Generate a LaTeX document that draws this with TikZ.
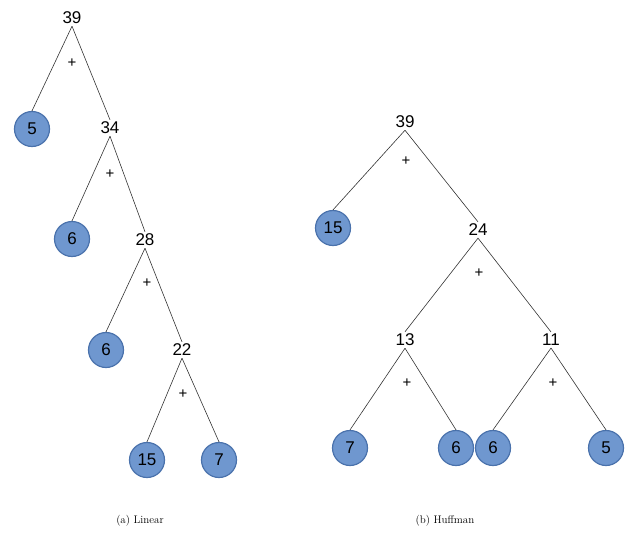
\documentclass[tikz,border=0pt]{standalone}
\usepackage{fontspec}
\newfontfamily\lab{Liberation Sans}
\begin{document}
\begin{tikzpicture}[x=1pt,y=-1pt,
  lbl/.style={font=\lab\fontsize{17}{17}\selectfont, inner sep=2pt},
  leaf/.style={lbl, circle, fill=leafblue, draw=leafedge, line width=1.2pt, minimum size=35pt, inner sep=0pt},
  pl/.style={font=\lab\fontsize{15}{15}\selectfont, inner sep=0pt},
  edge/.style={line width=0.6pt, draw=black!80}]
\definecolor{leafblue}{HTML}{6F97CF}
\definecolor{leafedge}{HTML}{4A72AC}
\useasboundingbox (0,0) rectangle (640,533);
% left tree
\node[lbl] (a39) at (72,18) {39};
\node[leaf] (a5) at (32,129) {5};
\node[lbl] (a34) at (110,128) {34};
\node[pl] (ap1) at (72,63) {+};
\node[leaf] (a6) at (72,239) {6};
\node[lbl] (a28) at (145,240) {28};
\node[pl] (ap2) at (110,174) {+};
\node[leaf] (a6b) at (106,350) {6};
\node[lbl] (a22) at (182,350) {22};
\node[pl] (ap3) at (147,283) {+};
\node[leaf] (a15) at (147,460) {15};
\node[leaf] (a7) at (219,460) {7};
\node[pl] (ap4) at (183,394) {+};
\foreach \p/\c in {a39/a5,a39/a34,a34/a6,a34/a28,a28/a6b,a28/a22,a22/a15,a22/a7}
  \draw[edge] (\p.south) -- (\c.north);
% right tree
\node[lbl] (b39) at (405,122) {39};
\node[leaf] (b15) at (333,228) {15};
\node[lbl] (b24) at (478,230) {24};
\node[pl] (bp1) at (406,161) {+};
\node[lbl] (b13) at (405,340) {13};
\node[lbl] (b11) at (551,340) {11};
\node[pl] (bp2) at (479,273) {+};
\node[leaf] (b7) at (350,448) {7};
\node[leaf] (b6) at (456,448) {6};
\node[pl] (bp3) at (407,383) {+};
\node[leaf] (b6b) at (493,448) {6};
\node[leaf] (b5) at (606,448) {5};
\node[pl] (bp4) at (553,383) {+};
\foreach \p/\c in {b39/b15,b39/b24,b24/b13,b24/b11,b13/b7,b13/b6,b11/b6b,b11/b5}
  \draw[edge] (\p.south) -- (\c.north);
\node[font=\fontsize{11}{11}\selectfont] (capa) at (140,521) {(a) Linear};
\node[font=\fontsize{11}{11}\selectfont] (capb) at (445,521) {(b) Huffman};
\end{tikzpicture}
\end{document}
